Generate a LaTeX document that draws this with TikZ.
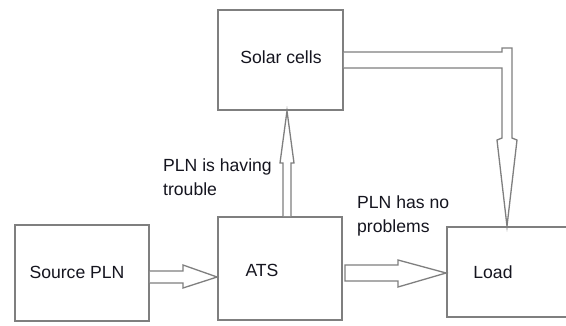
\documentclass[tikz,border=0pt]{standalone}
\usepackage{fontspec}
\setmainfont{Liberation Sans}
\begin{document}
\begin{tikzpicture}[x=1pt,y=-1pt,
  box/.style={draw=boxgray,line width=1.8pt,minimum width=#1,inner sep=0pt},
  txt/.style={inner sep=0pt,text=txtcol,font=\fontsize{17.6}{23.5}\selectfont},
  blockarrow/.style={draw=boxgray,fill=white,line width=1.3pt,line join=miter}]
\definecolor{boxgray}{HTML}{7F7F7F}
\definecolor{txtcol}{HTML}{15151F}
\useasboundingbox (0,0) rectangle (566,325);
\fill[white] (0,0) rectangle (566,325);
% boxes
\node[box=134pt,minimum height=96pt] (src) at (82,273) {};
\node[box=124pt,minimum height=103pt] (ats) at (280,268.5) {};
\node[box=124pt,minimum height=90pt] (load) at (509,272) {};
\node[box=125pt,minimum height=100pt] (solar) at (280.5,60) {};
% box texts
\node[txt] (tsrc) at (77,272) {Source PLN};
\node[txt] (tats) at (262,270) {ATS};
\node[txt] (tload) at (493,272) {Load};
\node[txt] (tsolar) at (281,57) {Solar cells};
% labels
\node[txt,anchor=north west,align=left] (ltrouble) at (163,159) {PLN is having\\trouble};
\node[txt,anchor=north west,align=left] (lok) at (357,196) {PLN has no\\problems};
% Source -> ATS
\draw[blockarrow] (src.east |- 0,271) -- (183,271) -- (183,265) -- (ats.west |- 0,277)
  -- (183,288) -- (183,283) -- (src.east |- 0,283);
% ATS -> Load
\draw[blockarrow] (345,265) -- (398,265) -- (398,260) -- (load.west |- 0,273)
  -- (398,287) -- (398,281) -- (345,281) -- cycle;
% ATS -> Solar cells
\draw[blockarrow] (283,0 |- ats.north) -- (283,163) -- (280,163) -- (287,0 |- solar.south)
  -- (294,163) -- (291,163) -- (291,0 |- ats.north);
% Solar cells -> Load
\draw[blockarrow] (solar.east |- 0,52) -- (502,52) -- (502,48) -- (512,48) -- (512,138)
  -- (517,140) -- (507,0 |- load.north) -- (497,140) -- (502,138) -- (502,68) -- (solar.east |- 0,68);
\end{tikzpicture}
\end{document}
